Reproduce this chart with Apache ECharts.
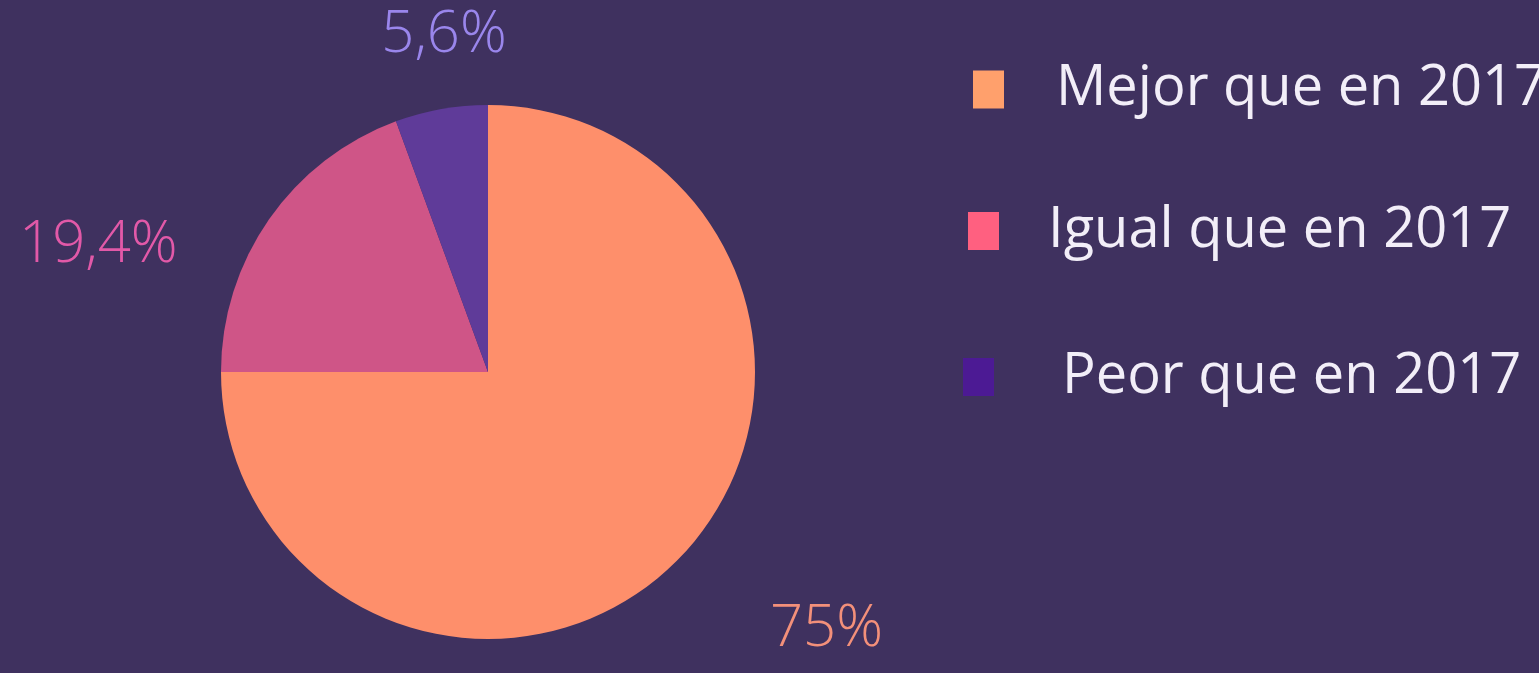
<!DOCTYPE html>
<html>
<head>
<meta charset="utf-8">
<title>Comparación con 2017</title>
<script src="https://cdn.jsdelivr.net/npm/echarts@6/dist/echarts.min.js"></script>
<style>
  html, body { margin: 0; padding: 0; background: #3f315f; }
  #chart { width: 1539px; height: 673px; }
</style>
</head>
<body>
<div id="chart"></div>
<script>
// categorias y valores (%)
const categories = ['Mejor que en 2017', 'Igual que en 2017', 'Peor que en 2017']
const values = [75, 19.4, 5.6]
const valueLabels = ['75%', '19,4%', '5,6%']

// colores
const sliceColors = ['#fe8f6b', '#cf5587', '#5f3b99']
const labelColors = ['#f3907a', '#e259a8', '#9a86ec']
const legendColors = ['#ffa06c', '#ff6080', '#4c1a94']

// ajuste de las etiquetas respecto a la posicion por defecto
const labelShift = [[64, 55], [-60, 38], [84, -54]]

// cada fila de la leyenda va suelta (left, top, padding del texto)
const legendPos = [
  { left: 973, top: 52, pad: [0, 0, 11, 47] },
  { left: 968, top: 195, pad: [8, 0, 0, 44] },
  { left: 963, top: 340, pad: [10, 0, 0, 63] }
]

const chart = echarts.init(document.getElementById('chart'))

chart.setOption({
  backgroundColor: '#3f315f',
  animation: false,
  legend: legendPos.map((p, i) => ({
    orient: 'vertical',
    left: p.left,
    top: p.top,
    padding: 0,
    icon: 'rect',
    itemWidth: 31,
    itemHeight: 38,
    selectedMode: false,
    data: [{ name: categories[i], itemStyle: { color: legendColors[i] } }],
    textStyle: {
      color: '#f2eef8',
      fontFamily: 'Open Sans',
      fontSize: 56,
      lineHeight: 64,
      padding: p.pad
    }
  })),
  series: [{
    type: 'pie',
    center: [488, 372],
    radius: 267,
    startAngle: 90,
    clockwise: true,
    avoidLabelOverlap: false,
    silent: true,
    label: {
      show: true,
      position: 'outside',
      fontFamily: 'Open Sans',
      fontSize: 58,
      fontWeight: 300,
      distanceToLabelLine: 5
    },
    labelLine: { show: false, length: 20, length2: 10 },
    labelLayout: params => ({
      dx: labelShift[params.dataIndex][0],
      dy: labelShift[params.dataIndex][1]
    }),
    data: categories.map((name, i) => ({
      name: name,
      value: values[i],
      itemStyle: { color: sliceColors[i] },
      label: { formatter: valueLabels[i], color: labelColors[i] }
    }))
  }]
})
</script>
</body>
</html>
